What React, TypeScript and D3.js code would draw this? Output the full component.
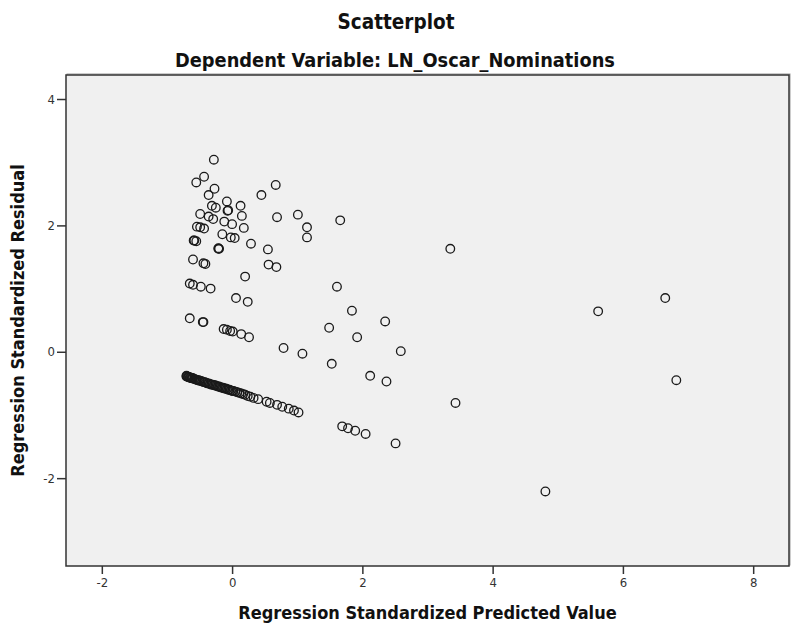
import React, { useEffect, useRef } from "react";
import * as d3 from "d3";

// regression standardized predicted value (x) and residual (y)
const predicted = [
  // upper cluster
  -0.28, -0.43, -0.55, -0.27, -0.36, 0.67, 0.45, -0.08, 0.13, -0.31, -0.25, -0.07, -0.06,
  -0.49, -0.36, -0.29, 0.15, 0.69, 1.01, 1.15, 1.15, -0.12, 0.0, 0.18, -0.54, -0.49, -0.43,
  -0.15, -0.02, 0.04, -0.59, -0.58, -0.55, -0.21, -0.2, -0.21, 0.29, 0.55, -0.6, -0.44, -0.41,
  0.56, 0.68, 0.2, -0.65, -0.6, -0.48, -0.33, 0.06, 0.24, -0.65, -0.45, -0.44, -0.13, -0.08,
  -0.03, 0.01, 0.14, 0.26, 0.79, 1.08,
  // spread out to the right
  1.66, 3.35, 1.61, 1.84, 2.35, 1.49, 1.92, 2.59, 1.53, 2.12, 2.37, 3.43, 5.62, 6.65, 6.82,
  4.81, 1.69, 1.78, 1.89, 2.05, 2.51,
  // films with no nominations, the diagonal band
  -0.7, -0.7, -0.69, -0.68, -0.67, -0.66, -0.65, -0.64, -0.63, -0.62, -0.61, -0.6, -0.58,
  -0.56, -0.55, -0.53, -0.51, -0.5, -0.48, -0.46, -0.44, -0.42, -0.4, -0.38, -0.36, -0.34,
  -0.32, -0.3, -0.28, -0.26, -0.24, -0.22, -0.2, -0.18, -0.16, -0.14, -0.12, -0.1, -0.08,
  -0.06, -0.04, -0.02, 0.0, 0.02, 0.05, 0.08, 0.11, 0.14, 0.17, 0.2, 0.24, 0.28, 0.33, 0.4,
  0.53, 0.58, 0.69, 0.77, 0.87, 0.95, 1.02,
];
const residual = [
  3.04, 2.77, 2.68, 2.58, 2.48, 2.64, 2.48, 2.38, 2.31, 2.31, 2.28, 2.23, 2.24,
  2.18, 2.14, 2.1, 2.15, 2.13, 2.17, 1.97, 1.81, 2.06, 2.02, 1.96, 1.98, 1.97, 1.95,
  1.86, 1.81, 1.8, 1.76, 1.76, 1.75, 1.63, 1.63, 1.64, 1.71, 1.62, 1.46, 1.4, 1.39,
  1.38, 1.34, 1.19, 1.08, 1.06, 1.03, 1.0, 0.85, 0.79, 0.53, 0.47, 0.47, 0.36, 0.35,
  0.33, 0.32, 0.28, 0.23, 0.06, -0.03,
  2.08, 1.63, 1.03, 0.65, 0.48, 0.38, 0.23, 0.01, -0.19, -0.38, -0.47, -0.81, 0.64, 0.85, -0.45,
  -2.21, -1.18, -1.21, -1.25, -1.3, -1.45,
  -0.39, -0.38, -0.39, -0.4, -0.4, -0.4, -0.41, -0.41, -0.41, -0.42, -0.42, -0.42, -0.43,
  -0.44, -0.44, -0.45, -0.45, -0.46, -0.46, -0.47, -0.48, -0.48, -0.49, -0.5, -0.5, -0.51,
  -0.52, -0.52, -0.53, -0.53, -0.54, -0.55, -0.55, -0.56, -0.57, -0.57, -0.58, -0.58, -0.59,
  -0.6, -0.6, -0.61, -0.62, -0.62, -0.63, -0.64, -0.65, -0.66, -0.67, -0.68, -0.7, -0.71, -0.73, -0.75,
  -0.79, -0.81, -0.84, -0.87, -0.9, -0.93, -0.96,
];

const xTicks = [-2, 0, 2, 4, 6, 8];
const yTicks = [-2, 0, 2, 4];

const chartTitle = "Scatterplot";
const chartSubtitle = "Dependent Variable: LN_Oscar_Nominations";
const xTitle = "Regression Standardized Predicted Value";
const yTitle = "Regression Standardized Residual";

const W = 793;
const H = 625;
const box = { left: 66, right: 789, top: 75, bottom: 566 };
const font = "'DejaVu Sans Condensed', 'Liberation Sans Narrow', sans-serif";

export default function App() {
  const ref = useRef<SVGSVGElement>(null);

  useEffect(() => {
    const svg = d3.select(ref.current);
    svg.selectAll("*").remove();

    const x = d3.scaleLinear().domain([-2.55, 8.55]).range([box.left, box.right]);
    const y = d3.scaleLinear().domain([-3.39, 4.38]).range([box.bottom, box.top]);

    // plot background + frame (slight shadow like SPSS)
    svg.append("rect")
      .attr("x", box.left + 1).attr("y", box.top - 1)
      .attr("width", box.right - box.left).attr("height", box.bottom - box.top)
      .attr("fill", "none").attr("stroke", "#999").attr("stroke-width", 1);
    svg.append("rect")
      .attr("x", box.left).attr("y", box.top)
      .attr("width", box.right - box.left).attr("height", box.bottom - box.top)
      .attr("fill", "#f0f0f0").attr("stroke", "#333").attr("stroke-width", 1.5);

    // points
    svg.append("g")
      .selectAll("circle")
      .data(predicted.map((p, i) => [p, residual[i]]))
      .join("circle")
      .attr("cx", d => x(d[0]))
      .attr("cy", d => y(d[1]))
      .attr("r", 4.3)
      .attr("fill", "none")
      .attr("stroke", "#1a1a1a")
      .attr("stroke-width", 1.3);

    // axes, plain hyphen for negatives like SPSS
    const fmt = (d: d3.NumberValue) => String(d);
    const xAxis = svg.append("g")
      .attr("transform", `translate(0, ${box.bottom})`)
      .call(d3.axisBottom(x).tickValues(xTicks).tickFormat(fmt).tickSize(8).tickSizeOuter(0).tickPadding(4));
    const yAxis = svg.append("g")
      .attr("transform", `translate(${box.left}, 0)`)
      .call(d3.axisLeft(y).tickValues(yTicks).tickFormat(fmt).tickSize(9).tickSizeOuter(0).tickPadding(2));
    [xAxis, yAxis].forEach(a => {
      a.select(".domain").remove();
      a.selectAll("line").attr("stroke", "#333").attr("stroke-width", 1.5);
      a.selectAll("text")
        .attr("fill", "#333")
        .style("font-family", font)
        .style("font-size", "13px");
    });

    // titles
    const title = (txt: string, size: number) =>
      svg.append("text")
        .attr("text-anchor", "middle")
        .style("font-family", font).style("font-size", size + "px").style("font-weight", "bold")
        .attr("fill", "#111")
        .text(txt);

    title(chartTitle, 20.5).attr("x", 396).attr("y", 29);
    title(chartSubtitle, 19.8).attr("x", 395).attr("y", 67);
    title(xTitle, 18).attr("x", (box.left + box.right) / 2).attr("y", 619);
    title(yTitle, 18)
      .attr("transform", `translate(24, ${(box.top + box.bottom) / 2}) rotate(-90)`);
  }, []);

  return (
    <svg ref={ref} width={W} height={H}
      style={{ position: "absolute", left: 0, top: 0, background: "#fff" }} />
  );
}
